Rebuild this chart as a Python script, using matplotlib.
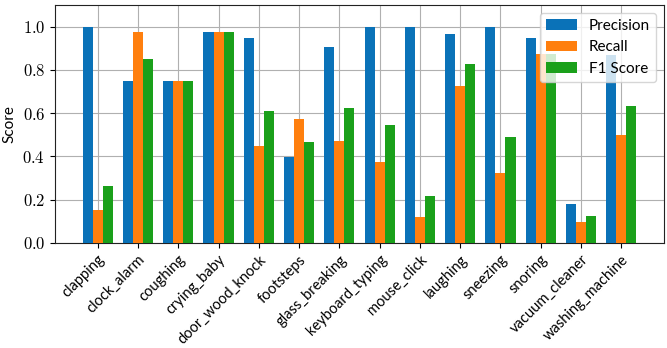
import matplotlib
matplotlib.use("Agg")
import matplotlib.pyplot as plt
import numpy as np

categories = ["clapping", "clock_alarm", "coughing", "crying_baby", "door_wood_knock",
              "footsteps", "glass_breaking", "keyboard_typing", "mouse_click", "laughing",
              "sneezing", "snoring", "vacuum_cleaner", "washing_machine"]
precision = [1.0, 0.75, 0.75, 0.975, 0.947, 0.397, 0.904, 1.0, 1.0, 0.967, 1.0, 0.946, 0.18, 0.87]
recall    = [0.15, 0.975, 0.75, 0.975, 0.449, 0.574, 0.472, 0.373, 0.122, 0.724, 0.323, 0.875, 0.097, 0.50]
f1        = [0.265, 0.849, 0.75, 0.975, 0.61, 0.468, 0.622, 0.545, 0.219, 0.829, 0.489, 0.875, 0.125, 0.634]
series_names = ["Precision", "Recall", "F1 Score"]
yticks = [0.0, 0.2, 0.4, 0.6, 0.8, 1.0]

plt.rcParams['mathtext.fontset'] = 'cm'
plt.rcParams['font.family'] = ['Lato', 'DejaVu Sans']

fig = plt.figure(figsize=(6.67, 3.48), dpi=100)
ax = fig.add_axes([0.0825, 0.302, 0.913, 0.684])

x = np.arange(len(categories))
w = 0.25
colors = ['#0a72b8', '#ff7f0e', '#1aa01a']
for i, (vals, name) in enumerate(zip([precision, recall, f1], series_names)):
    ax.bar(x + (i - 1) * w, vals, w, label=name, color=colors[i], zorder=3)

ax.set_ylim(0, 1.1)
ax.set_yticks(yticks)
ax.set_yticklabels([f"${v:.1f}$" for v in yticks], fontsize=12)
ax.set_xticks(x)
ax.set_xticklabels(categories, rotation=45, ha='right', rotation_mode='anchor', fontsize=10.5)
ax.set_ylabel("Score", fontsize=11)
ax.grid(True, color='#b0b0b0', linewidth=0.8, zorder=0)
ax.set_axisbelow(True)
for s in ax.spines.values():
    s.set_color('#222222')
ax.legend(loc='upper right', fontsize=11, framealpha=0.8)

fig.savefig("out.png", dpi=100)
